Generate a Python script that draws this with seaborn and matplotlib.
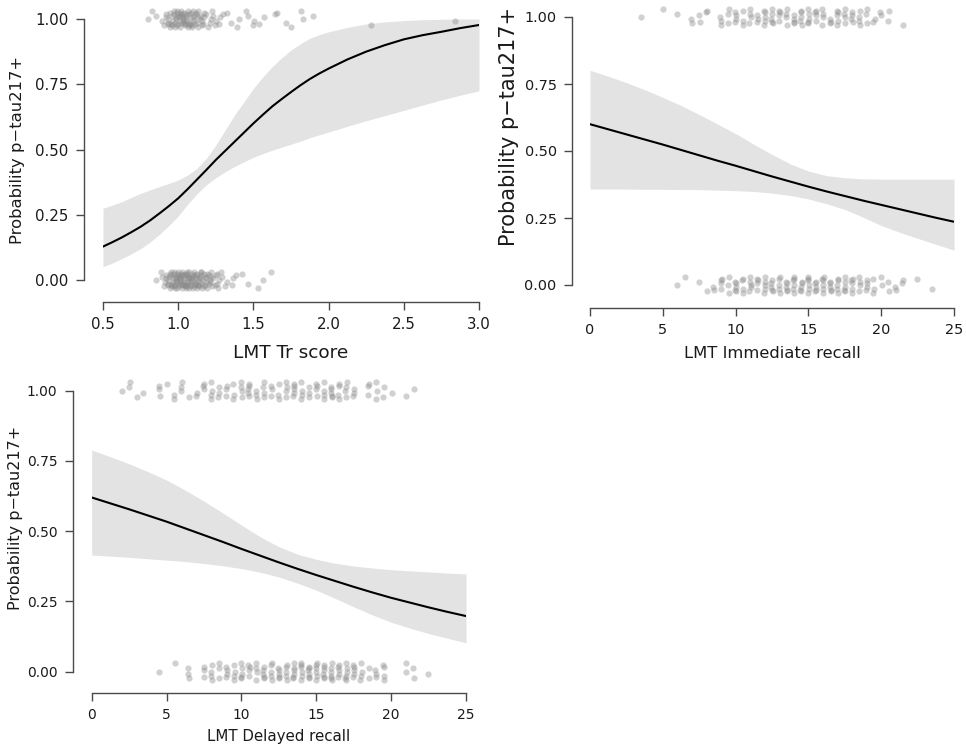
import numpy as np
import pandas as pd
import matplotlib
matplotlib.use("Agg")
import matplotlib.pyplot as plt
import seaborn as sns

sns.set_theme(style="white")
plt.rcParams['font.family'] = ['DejaVu Sans']

# ---------------- data ----------------
# Panel 1: LMT Tr score (fitted probability and confidence band)
tr_grid = [0.5, 0.5625, 0.625, 0.6875, 0.75, 0.8125, 0.875, 0.9375, 1.0, 1.0625, 1.125, 1.1875, 1.25,
           1.3125, 1.375, 1.4375, 1.5, 1.5625, 1.625, 1.6875, 1.75, 1.8125, 1.875, 1.9375, 2.0,
           2.125, 2.25, 2.375, 2.5, 2.625, 2.75, 2.875, 3.0]
tr_fit = [0.128, 0.145, 0.163, 0.183, 0.204, 0.228, 0.255, 0.283, 0.313, 0.348, 0.385, 0.422, 0.46,
          0.495, 0.53, 0.565, 0.60, 0.633, 0.665, 0.693, 0.72, 0.746, 0.77, 0.791, 0.81,
          0.845, 0.875, 0.900, 0.922, 0.938, 0.951, 0.965, 0.977]
tr_upper = [0.275, 0.287, 0.300, 0.316, 0.332, 0.345, 0.358, 0.370, 0.383, 0.402, 0.428, 0.466, 0.517,
            0.575, 0.632, 0.683, 0.734, 0.778, 0.817, 0.851, 0.881, 0.905, 0.926, 0.940, 0.951,
            0.968, 0.981, 0.989, 0.994, 0.997, 0.999, 1.0, 1.0]
tr_lower = [0.051, 0.065, 0.082, 0.100, 0.120, 0.145, 0.175, 0.208, 0.245, 0.290, 0.330, 0.365, 0.392,
            0.415, 0.435, 0.453, 0.470, 0.484, 0.497, 0.509, 0.520, 0.532, 0.545, 0.556, 0.567,
            0.589, 0.610, 0.630, 0.650, 0.670, 0.690, 0.708, 0.725]
tr_pos_x = [0.80, 0.82, 0.86, 0.90, 0.92, 0.94, 0.96, 0.98, 1.00, 1.02, 1.04, 1.06, 1.08, 1.10, 1.12, 1.14,
            1.16, 1.18, 1.20, 1.22, 1.24, 1.26, 1.28, 1.30, 1.32, 1.36, 1.39, 1.41, 1.44, 1.47, 1.50, 1.54,
            1.57, 1.65, 1.72, 1.75, 1.82, 1.89, 2.29, 2.83]
tr_pos_n = [1, 1, 1, 2, 3, 4, 5, 6, 6, 7, 7, 6, 6, 5, 5, 4, 3, 3, 2, 2, 2, 2, 1, 1, 1, 1, 1, 1, 1, 1, 2, 1,
            1, 2, 1, 1, 2, 1, 1, 1]
tr_neg_x = [0.85, 0.88, 0.90, 0.92, 0.94, 0.96, 0.98, 1.00, 1.02, 1.04, 1.06, 1.08, 1.10, 1.12, 1.14, 1.16,
            1.18, 1.20, 1.22, 1.24, 1.26, 1.28, 1.30, 1.33, 1.36, 1.39, 1.42, 1.47, 1.52, 1.57, 1.62]
tr_neg_n = [1, 1, 2, 4, 6, 7, 8, 9, 9, 9, 9, 8, 8, 7, 7, 6, 5, 5, 4, 3, 3, 2, 2, 1, 2, 1, 1, 1, 1, 1, 1]

# Panels 2 and 3 share the recall grid
rec_grid = [0, 1.25, 2.5, 3.75, 5, 6.25, 7.5, 8.75, 10, 11.25, 12.5, 13.75, 15, 16.25, 17.5, 18.75,
            20, 21.25, 22.5, 23.75, 25]

# Panel 2: LMT Immediate recall
imm_fit = [0.600, 0.581, 0.562, 0.543, 0.524, 0.504, 0.484, 0.464, 0.445, 0.425, 0.405, 0.386, 0.367,
           0.349, 0.332, 0.315, 0.299, 0.283, 0.267, 0.251, 0.236]
imm_upper = [0.801, 0.779, 0.755, 0.729, 0.700, 0.670, 0.636, 0.601, 0.565, 0.525, 0.487, 0.452, 0.425,
             0.408, 0.400, 0.396, 0.395, 0.395, 0.395, 0.395, 0.395]
imm_lower = [0.358, 0.358, 0.358, 0.357, 0.357, 0.356, 0.356, 0.354, 0.352, 0.349, 0.343, 0.334, 0.321,
             0.303, 0.282, 0.253, 0.222, 0.197, 0.174, 0.152, 0.130]
imm_pos_x = [3.5, 5, 6, 7, 7.5, 8, 9, 9.5, 10, 10.5, 11, 11.5, 12, 12.5, 13, 13.5, 14, 14.5, 15, 15.5,
             16, 16.5, 17, 17.5, 18, 18.5, 19, 19.5, 20, 20.5, 21.5]
imm_pos_n = [1, 1, 1, 2, 2, 2, 3, 3, 4, 3, 4, 3, 5, 5, 4, 4, 4, 5, 5, 4, 4, 3, 5, 4, 4, 4, 3, 2, 2, 2, 1]
imm_neg_x = [6, 6.5, 7.5, 8, 8.5, 9, 9.5, 10, 10.5, 11, 11.5, 12, 12.5, 13, 13.5, 14, 14.5, 15, 15.5,
             16, 16.5, 17, 17.5, 18, 18.5, 19, 19.5, 20, 20.5, 21, 21.5, 22.5, 23.5]
imm_neg_n = [1, 1, 1, 1, 2, 4, 3, 5, 4, 5, 4, 5, 5, 5, 5, 6, 5, 6, 5, 6, 5, 5, 5, 5, 4, 4, 3, 2, 2, 2, 2, 1, 1]

# Panel 3: LMT Delayed recall
del_fit = [0.620, 0.599, 0.578, 0.556, 0.534, 0.510, 0.486, 0.462, 0.437, 0.413, 0.389, 0.366, 0.344,
           0.323, 0.302, 0.282, 0.263, 0.246, 0.229, 0.213, 0.198]
del_upper = [0.789, 0.765, 0.740, 0.712, 0.682, 0.646, 0.607, 0.565, 0.522, 0.480, 0.445, 0.418, 0.400,
             0.386, 0.376, 0.369, 0.363, 0.359, 0.355, 0.351, 0.348]
del_lower = [0.415, 0.411, 0.407, 0.402, 0.397, 0.392, 0.385, 0.377, 0.367, 0.354, 0.337, 0.315, 0.290,
             0.261, 0.231, 0.202, 0.176, 0.155, 0.136, 0.119, 0.103]
del_pos_x = [2, 2.5, 3, 3.5, 4.5, 5, 5.5, 6, 6.5, 7, 7.5, 8, 8.5, 9, 9.5, 10, 10.5, 11, 11.5, 12, 12.5,
             13, 13.5, 14, 14.5, 15, 15.5, 16, 16.5, 17, 17.5, 18.5, 19, 19.5, 20, 21, 21.5]
del_pos_n = [1, 2, 1, 1, 3, 1, 2, 3, 1, 2, 3, 4, 3, 3, 3, 4, 5, 3, 4, 3, 3, 4, 5, 4, 3, 4, 4, 5, 4, 4, 3,
             3, 3, 2, 1, 1, 1]
del_neg_x = [4.5, 5.5, 6.5, 7.5, 8, 8.5, 9, 9.5, 10, 10.5, 11, 11.5, 12, 12.5, 13, 13.5, 14, 14.5, 15,
             15.5, 16, 16.5, 17, 17.5, 18, 18.5, 19, 19.5, 21, 21.5, 22.5]
del_neg_n = [1, 1, 3, 3, 4, 3, 4, 4, 5, 4, 4, 5, 5, 5, 5, 6, 6, 6, 6, 6, 6, 5, 6, 5, 4, 2, 3, 4, 2, 2, 1]

y_ticks = [0.00, 0.25, 0.50, 0.75, 1.00]
y_tick_labels = ["0.00", "0.25", "0.50", "0.75", "1.00"]
tr_ticks = [0.5, 1.0, 1.5, 2.0, 2.5, 3.0]
tr_tick_labels = ["0.5", "1.0", "1.5", "2.0", "2.5", "3.0"]
rec_ticks = [0, 5, 10, 15, 20, 25]
rec_tick_labels = ["0", "5", "10", "15", "20", "25"]
y_title = "Probability p\u2212tau217+"

# display jitter pattern (layout only)
JY = np.array([0.0, 0.024, -0.02, 0.012, -0.03, 0.018, -0.008, 0.03, -0.014, 0.006, -0.024])
JX1 = np.array([0.0, 0.007, -0.006, 0.003, -0.009, 0.009, -0.003])
JX2 = np.array([0.0, 0.04, -0.035, 0.02, -0.05, 0.03, -0.015])

SPINE = "#4a4a4a"
TXT = "#1a1a1a"
DPI = 100
fig = plt.figure(figsize=(9.66, 7.44), dpi=DPI)
W, H = 966, 744


def px_axes(x0, x1, y_top, y_bot):
    return fig.add_axes([x0 / W, 1 - y_bot / H, (x1 - x0) / W, (y_bot - y_top) / H])


def points(xs, ns, grp, jx):
    x = np.repeat(np.array(xs, float), ns)
    n = len(x)
    x = x + jx[np.arange(n) % len(jx)]
    y = grp + JY[(np.arange(n) * 7) % len(JY)]
    return x, y


def panel(ax, grid, fit, lo, hi, pos_x, pos_n, neg_x, neg_n, jx, xlim, xticks, xtl,
          xlabel, tick_fs, xlab_fs, ylab_fs, left_out, bot_out, xlab_y, ylab_x, ylab_y):
    ax.fill_between(grid, lo, hi, color="#e3e3e3", linewidth=0, zorder=1)
    sns.lineplot(x=grid, y=fit, ax=ax, color="black", linewidth=1.5, zorder=3)
    px, py = points(pos_x, pos_n, 1.0, jx)
    nx, ny = points(neg_x, neg_n, 0.0, jx)
    df = pd.DataFrame({"x": np.concatenate([px, nx]), "y": np.concatenate([py, ny])})
    sns.scatterplot(data=df, x="x", y="y", ax=ax, color="#8a8a8a", alpha=0.4, s=20,
                    linewidth=0, clip_on=False, zorder=2)
    ax.set_xlim(*xlim)
    ax.set_ylim(0, 1)
    for s in ["top", "right"]:
        ax.spines[s].set_visible(False)
    ax.spines["left"].set_position(("outward", left_out * 0.72))
    ax.spines["bottom"].set_position(("outward", bot_out * 0.72))
    for s in ["left", "bottom"]:
        ax.spines[s].set_color(SPINE)
        ax.spines[s].set_linewidth(1.0)
    ax.set_xticks(xticks)
    ax.set_xticklabels(xtl)
    ax.set_yticks(y_ticks)
    ax.set_yticklabels(y_tick_labels)
    ax.tick_params(axis="both", direction="out", length=6, width=1.0, color=SPINE,
                   labelsize=tick_fs, labelcolor=TXT, pad=5, bottom=True, left=True)
    ax.set_xlabel(xlabel, fontsize=xlab_fs, color=TXT, va="center")
    ax.set_ylabel(y_title, fontsize=ylab_fs, color=TXT, va="center")
    ax.xaxis.set_label_coords(0.5, xlab_y)
    ax.yaxis.set_label_coords(ylab_x, ylab_y)
    ax.grid(False)
    ax.set_facecolor("none")


# Panel 1
ax1 = px_axes(103, 479, 19, 280)
panel(ax1, tr_grid, tr_fit, tr_lower, tr_upper, tr_pos_x, tr_pos_n, tr_neg_x, tr_neg_n, JX1,
      (0.5, 3.0), tr_ticks, tr_tick_labels, "LMT Tr score", 10.8, 13.3, 11.8, 19, 22,
      (280 - 353) / 261, (18 - 103) / 376, 0.5)

# Panel 2
ax2 = px_axes(590, 954, 17, 285)
panel(ax2, rec_grid, imm_fit, imm_lower, imm_upper, imm_pos_x, imm_pos_n, imm_neg_x, imm_neg_n, JX2,
      (0, 25), rec_ticks, rec_tick_labels, "LMT Immediate recall", 10.4, 11.8, 15, 18, 23,
      (285 - 353) / 268, (509 - 590) / 364, (285 - 126) / 268)

# Panel 3
ax3 = px_axes(91.7, 466, 390.7, 671.7)
panel(ax3, rec_grid, del_fit, del_lower, del_upper, del_pos_x, del_pos_n, del_neg_x, del_neg_n, JX2,
      (0, 25), rec_ticks, rec_tick_labels, "LMT Delayed recall", 9.9, 10.8, 11.5, 19, 21,
      (671.7 - 737) / 281, (16 - 91.7) / 374.3, (671.7 - 518) / 281)

fig.savefig("out.png", dpi=DPI, facecolor="white")
